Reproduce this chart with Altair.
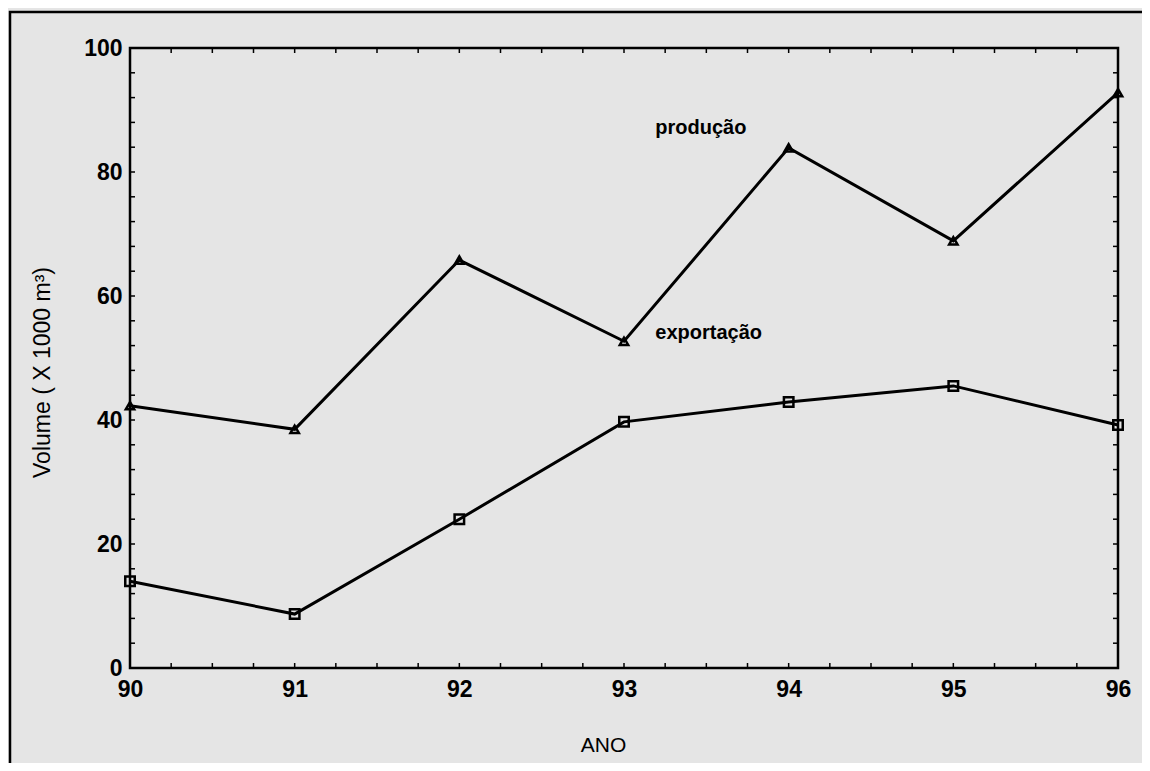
import altair as alt
import pandas as pd

years = [90, 91, 92, 93, 94, 95, 96]
producao = [42.3, 38.5, 65.8, 52.7, 83.9, 68.9, 92.8]
exportacao = [14.0, 8.7, 24.0, 39.7, 42.9, 45.5, 39.2]

label_text = ["produção", "exportação"]
label_x = [93.19, 93.19]
label_y = [87.1, 54.0]

y_minor = [v for v in range(0, 101, 4)]
x_minor = [90 + i * 0.25 for i in range(0, 25)]

FONT = "Liberation Sans"
BG = "#e5e5e5"

df = pd.DataFrame({
    "ano": years * 2,
    "volume": producao + exportacao,
    "serie": ["produção"] * 7 + ["exportação"] * 7,
})
df_p = df[df.serie == "produção"]
df_e = df[df.serie == "exportação"]
df_lab = pd.DataFrame({"t": label_text, "x": label_x, "y": label_y})
df_ym = pd.DataFrame({"v": y_minor})
df_xm = pd.DataFrame({"v": x_minor})

W, H = 988, 620

xs = alt.Scale(domain=[90, 96], nice=False, zero=False)
ys = alt.Scale(domain=[0, 100], nice=False)

xax = alt.Axis(values=years, format="d", labelFontSize=23, labelFont=FONT,
               labelFontWeight="bold", labelFlush=False,
               labelColor="black", labelPadding=10, ticks=False, domain=False,
               grid=False, title="ANO", titleFont=FONT, titleFontSize=21,
               titleFontWeight="normal", titleColor="black", titleX=473,
               titleY=77, titleBaseline="middle", titleAlign="center")
yax = alt.Axis(values=[0, 20, 40, 60, 80, 100], labelFontSize=23, labelFont=FONT,
               labelFontWeight="bold",
               labelColor="black", labelPadding=8, ticks=False, domain=False,
               grid=False, title="Volume ( X 1000 m³)", titleFont=FONT,
               titleFontSize=23, titleFontWeight="normal", titleColor="black",
               titleX=-88, titleY=324, titleAngle=270, titleBaseline="middle",
               titleAlign="center")

base_x = alt.X("ano:Q", scale=xs, axis=xax)
base_y = alt.Y("volume:Q", scale=ys, axis=yax)

line_p = alt.Chart(df_p).mark_line(color="black", strokeWidth=3).encode(x=base_x, y=base_y)
line_e = alt.Chart(df_e).mark_line(color="black", strokeWidth=3).encode(x=base_x, y=base_y)
pts_p = alt.Chart(df_p).mark_point(shape="triangle-up", size=70, color="black",
                                   filled=False, opacity=1, strokeWidth=2.5).encode(x=base_x, y=base_y)
pts_e = alt.Chart(df_e).mark_point(shape="square", size=90, color="black",
                                   filled=False, opacity=1, strokeWidth=2.5).encode(x=base_x, y=base_y)

labels = alt.Chart(df_lab).mark_text(align="left", baseline="middle", font=FONT,
                                     fontSize=20, fontWeight="bold", color="black").encode(
    x=alt.X("x:Q", scale=xs), y=alt.Y("y:Q", scale=ys), text="t:N")

ytick_l = alt.Chart(df_ym).mark_rule(color="black", strokeWidth=1.5).encode(
    y=alt.Y("v:Q", scale=ys), x=alt.value(0), x2=alt.value(5))
ytick_r = alt.Chart(df_ym).mark_rule(color="black", strokeWidth=1.5).encode(
    y=alt.Y("v:Q", scale=ys), x=alt.value(W - 5), x2=alt.value(W))
xtick_b = alt.Chart(df_xm).mark_rule(color="black", strokeWidth=1.5).encode(
    x=alt.X("v:Q", scale=xs), y=alt.value(H - 5), y2=alt.value(H))
xtick_t = alt.Chart(df_xm).mark_rule(color="black", strokeWidth=1.5).encode(
    x=alt.X("v:Q", scale=xs), y=alt.value(0), y2=alt.value(5))

frame = alt.Chart(pd.DataFrame({"a": [0]})).mark_rect(
    fill=None, stroke="black", strokeWidth=2.5).encode(
    x=alt.value(-120), x2=alt.value(1060), y=alt.value(-36), y2=alt.value(760))

chart = alt.layer(
    frame, ytick_l, ytick_r, xtick_b, xtick_t, line_p, line_e, pts_p, pts_e, labels
).properties(
    width=W, height=H,
    autosize=alt.AutoSizeParams(type="none"),
    padding={"left": 122, "top": 40, "right": 24, "bottom": 95},
    background=BG,
).configure_view(stroke="black", strokeWidth=2.5, fill=BG)

chart.save("out.html", embed_options={"renderer": "svg", "actions": False})
